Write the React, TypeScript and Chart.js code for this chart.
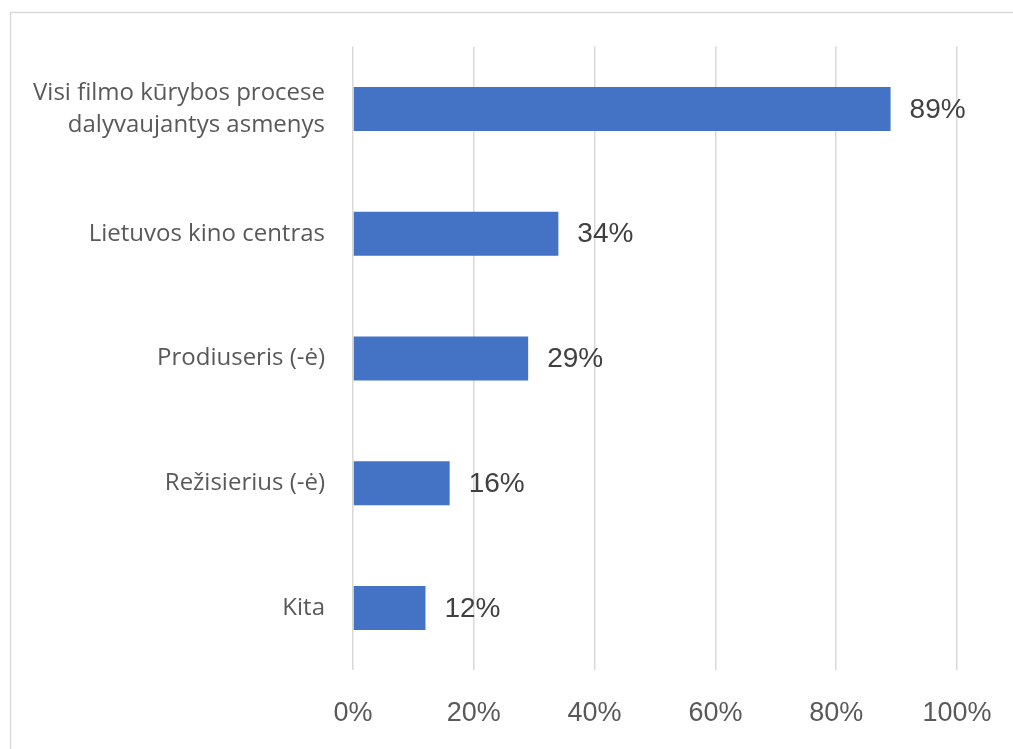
import React, { useEffect, useRef } from "react";
import { Chart, registerables } from "chart.js";

Chart.register(...registerables);

const categories: (string | string[])[] = [
  ["Visi filmo kūrybos procese", "dalyvaujantys asmenys"],
  "Lietuvos kino centras",
  "Prodiuseris (-ė)",
  "Režisierius (-ė)",
  "Kita",
];
const values = [89, 34, 29, 16, 12];
const xTicks = [0, 20, 40, 60, 80, 100];

const frameAndLabels = {
  id: "frameAndLabels",
  beforeDraw(chart: any) {
    const ctx = chart.ctx;
    ctx.save();
    ctx.strokeStyle = "#d9d9d9";
    ctx.lineWidth = 1.5;
    ctx.strokeRect(10.5, 12.5, 1100, 800);
    ctx.restore();
  },
  afterDatasetsDraw(chart: any) {
    const ctx = chart.ctx;
    const meta = chart.getDatasetMeta(0);
    ctx.save();
    ctx.fillStyle = "#404040";
    ctx.font = "28px 'Liberation Sans', Arial, sans-serif";
    ctx.textAlign = "left";
    ctx.textBaseline = "middle";
    meta.data.forEach((bar: any, i: number) => {
      ctx.fillText(values[i] + "%", bar.x + 19, bar.y + 1);
    });
    ctx.restore();
  },
};

export default function App() {
  const ref = useRef<HTMLCanvasElement>(null);
  useEffect(() => {
    if (!ref.current) return;
    const chart = new Chart(ref.current, {
      type: "bar",
      data: {
        labels: categories,
        datasets: [
          {
            data: values,
            backgroundColor: "#4472c4",
            borderWidth: 0,
            barPercentage: 0.353,
            categoryPercentage: 1,
          },
        ],
      },
      options: {
        indexAxis: "y",
        animation: false,
        responsive: false,
        maintainAspectRatio: false,
        layout: { padding: { top: 46.6, right: 56, bottom: 0, left: 0 } },
        plugins: { legend: { display: false }, tooltip: { enabled: false } },
        scales: {
          x: {
            min: 0,
            max: 100,
            afterBuildTicks(scale: any) {
              scale.ticks = xTicks.map((v) => ({ value: v }));
            },
            afterFit(scale: any) {
              scale.height = 749 - 670.4;
              scale.paddingLeft = 0;
              scale.paddingRight = 0;
            },
            grid: { color: "#d9d9d9", lineWidth: 1.5, drawTicks: false },
            border: { display: false },
            ticks: {
              padding: 27,
              color: "#595959",
              font: { family: "'Liberation Sans', Arial, sans-serif", size: 27 },
              callback: (v: any) => v + "%",
            },
          },
          y: {
            afterFit(scale: any) {
              scale.width = 353;
              scale.paddingTop = 0;
              scale.paddingBottom = 0;
            },
            grid: { display: false, drawTicks: false },
            border: { display: false },
            ticks: {
              padding: 28,
              color: "#595959",
              font: { family: "'Open Sans', sans-serif", size: 24, lineHeight: 1.36 },
            },
          },
        },
      },
      plugins: [frameAndLabels],
    });
    return () => chart.destroy();
  }, []);
  return (
    <div style={{ position: "fixed", left: 0, top: 0, width: 1013, height: 749, background: "#fff" }}>
      <canvas ref={ref} width={1013} height={749} style={{ display: "block" }} />
    </div>
  );
}
